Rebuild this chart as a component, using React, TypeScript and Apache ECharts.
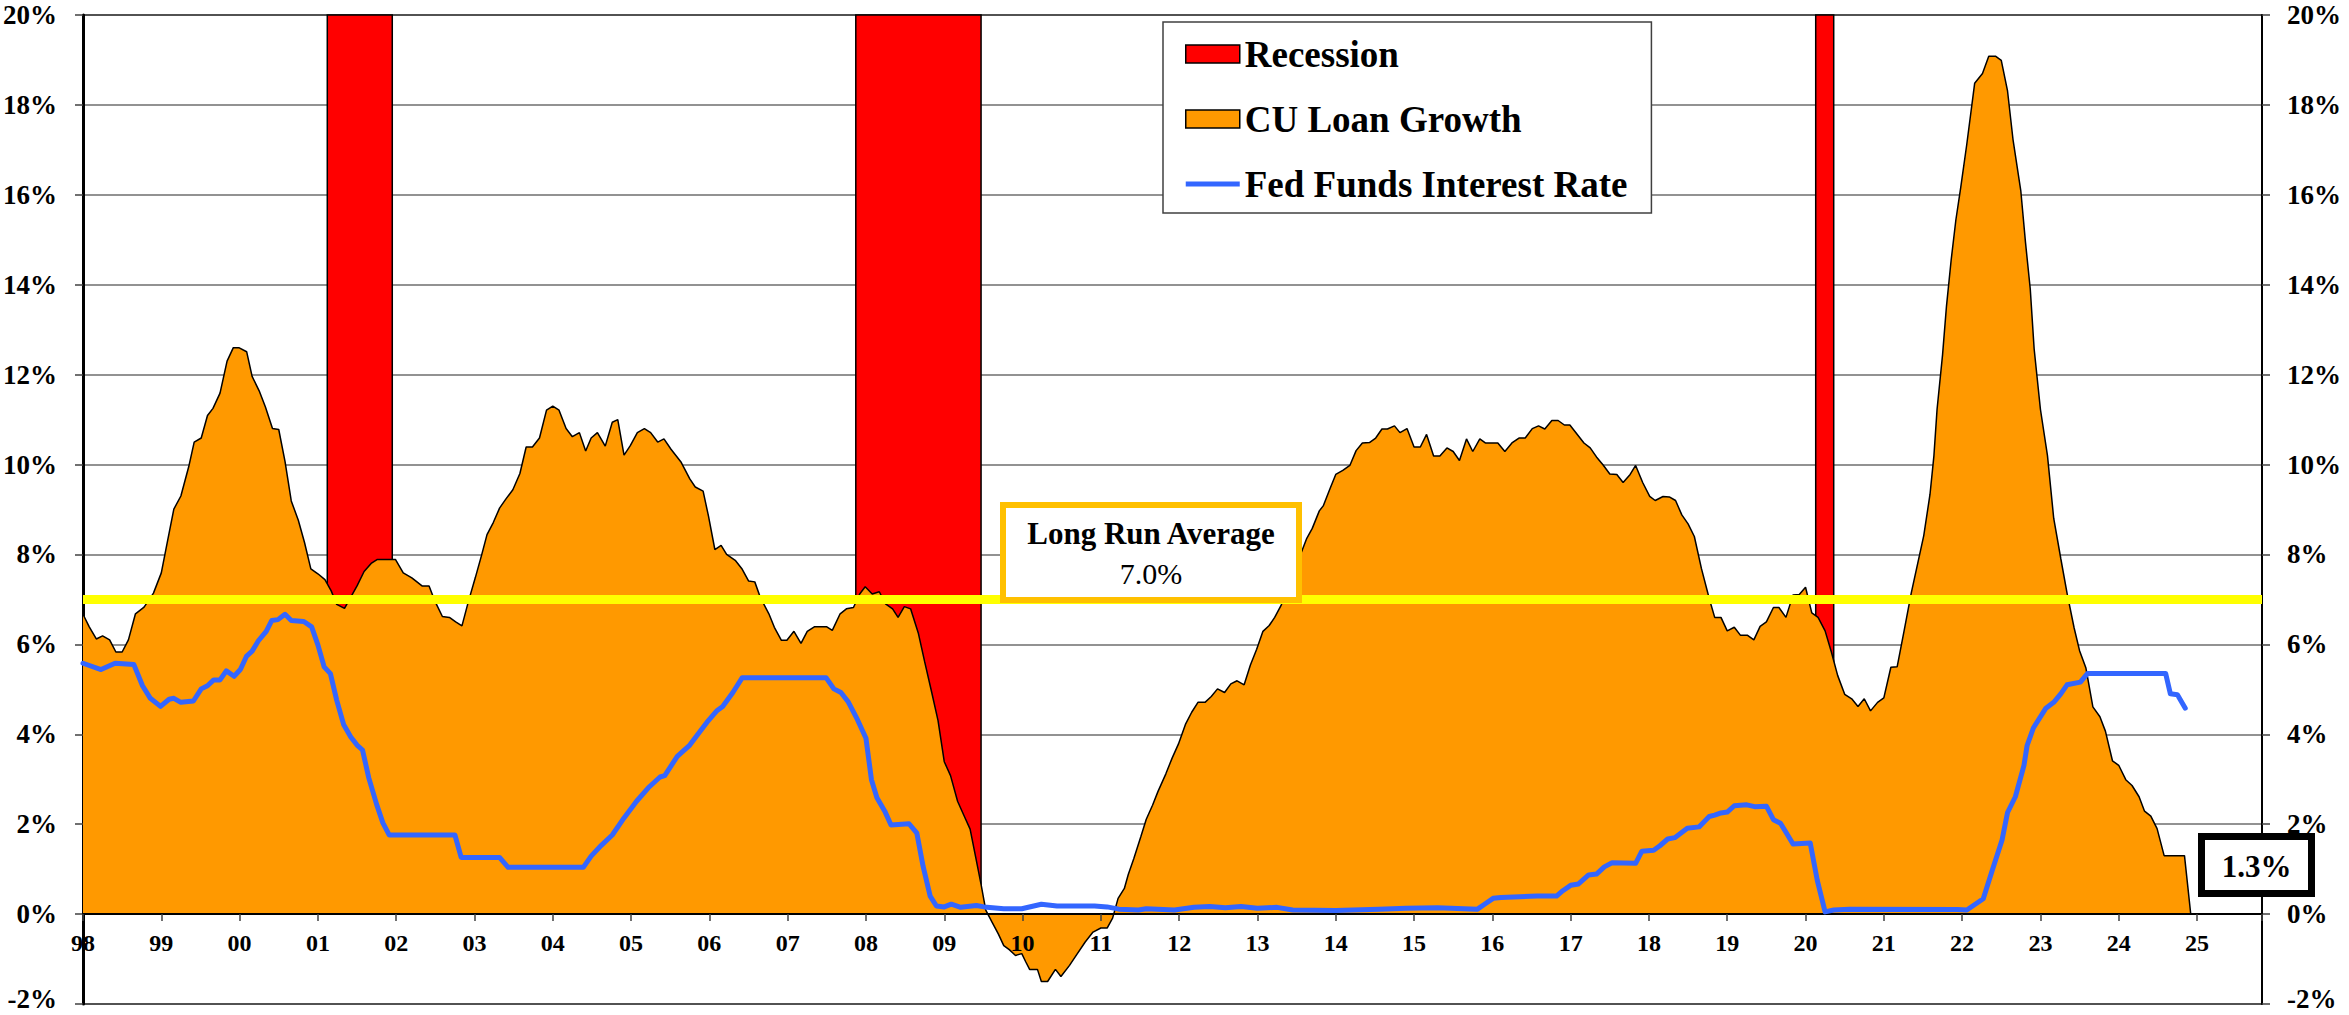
import React, { useEffect, useRef } from 'react';
import * as echarts from 'echarts';

const FONT = '"Liberation Serif", "Times New Roman", Times, serif';

// Axis ranges
const yMin = -2;
const yMax = 20;
const yStep = 2;
const xStart = 1998;
const xEnd = 2025.83;

// Recession periods (year fractions)
const recessionStart = [2001.12, 2007.87, 2020.13];
const recessionEnd = [2001.95, 2009.47, 2020.36];

const longRunAverage = 7.0;

// CU loan growth (annual %, by year fraction)
const loanGrowth: [number, number][] = [
  [1998.0, 6.67], [1998.08, 6.39], [1998.17, 6.12], [1998.25, 6.19], [1998.34, 6.1], [1998.42, 5.83],
  [1998.5, 5.83], [1998.58, 6.1], [1998.67, 6.68], [1998.78, 6.83], [1998.9, 7.14], [1999.0, 7.59],
  [1999.08, 8.3], [1999.16, 9.01], [1999.25, 9.3], [1999.35, 9.95], [1999.42, 10.5], [1999.51, 10.59],
  [1999.59, 11.09], [1999.66, 11.25], [1999.75, 11.59], [1999.84, 12.3], [1999.92, 12.6], [1999.99, 12.6],
  [2000.09, 12.51], [2000.16, 11.96], [2000.25, 11.64], [2000.33, 11.28], [2000.42, 10.8], [2000.5, 10.78],
  [2000.58, 10.07], [2000.66, 9.19], [2000.75, 8.76], [2000.83, 8.26], [2000.91, 7.68], [2001.0, 7.57],
  [2001.09, 7.44], [2001.17, 7.19], [2001.24, 6.89], [2001.34, 6.8], [2001.42, 7.05], [2001.5, 7.3],
  [2001.59, 7.62], [2001.68, 7.8], [2001.76, 7.89], [2001.89, 7.89], [2001.99, 7.89], [2002.09, 7.59],
  [2002.2, 7.48], [2002.33, 7.3], [2002.42, 7.3], [2002.49, 6.98], [2002.59, 6.62], [2002.68, 6.6],
  [2002.76, 6.5], [2002.84, 6.41], [2002.92, 6.94], [2003.01, 7.48], [2003.09, 7.98], [2003.16, 8.44],
  [2003.24, 8.71], [2003.32, 9.03], [2003.4, 9.23], [2003.49, 9.44], [2003.58, 9.8], [2003.66, 10.39],
  [2003.74, 10.39], [2003.83, 10.59], [2003.92, 11.21], [2004.0, 11.3], [2004.08, 11.21], [2004.17, 10.8],
  [2004.25, 10.62], [2004.34, 10.71], [2004.42, 10.3], [2004.49, 10.59], [2004.57, 10.71], [2004.67, 10.41],
  [2004.76, 10.94], [2004.83, 11.0], [2004.91, 10.21], [2004.99, 10.42], [2005.08, 10.71], [2005.17, 10.8],
  [2005.25, 10.71], [2005.34, 10.5], [2005.42, 10.57], [2005.51, 10.34], [2005.64, 10.05], [2005.75, 9.68],
  [2005.82, 9.5], [2005.92, 9.41], [2005.99, 8.84], [2006.07, 8.11], [2006.15, 8.2], [2006.22, 8.0],
  [2006.33, 7.87], [2006.42, 7.67], [2006.5, 7.41], [2006.58, 7.39], [2006.65, 7.05], [2006.76, 6.68],
  [2006.83, 6.38], [2006.92, 6.09], [2006.99, 6.09], [2007.08, 6.29], [2007.17, 6.02], [2007.25, 6.29],
  [2007.34, 6.39], [2007.5, 6.39], [2007.57, 6.31], [2007.67, 6.68], [2007.75, 6.79], [2007.84, 6.82],
  [2007.92, 7.12], [2007.99, 7.28], [2008.08, 7.12], [2008.17, 7.17], [2008.25, 6.9], [2008.34, 6.79],
  [2008.41, 6.6], [2008.49, 6.84], [2008.57, 6.79], [2008.67, 6.24], [2008.75, 5.61], [2008.84, 4.93],
  [2008.92, 4.31], [2009.0, 3.39], [2009.08, 3.08], [2009.17, 2.51], [2009.25, 2.2], [2009.33, 1.89],
  [2009.4, 1.28], [2009.47, 0.66], [2009.53, 0.09], [2009.61, -0.18], [2009.69, -0.44], [2009.76, -0.7],
  [2009.83, -0.79], [2009.91, -0.92], [2009.99, -0.88], [2010.04, -1.06], [2010.09, -1.23], [2010.19, -1.23],
  [2010.24, -1.5], [2010.32, -1.5], [2010.42, -1.23], [2010.49, -1.39], [2010.6, -1.14], [2010.7, -0.88],
  [2010.8, -0.62], [2010.9, -0.4], [2011.0, -0.31], [2011.08, -0.31], [2011.15, -0.09], [2011.22, 0.35],
  [2011.3, 0.57], [2011.35, 0.88], [2011.42, 1.23], [2011.51, 1.72], [2011.58, 2.11], [2011.66, 2.42],
  [2011.73, 2.73], [2011.83, 3.12], [2011.91, 3.47], [2011.99, 3.78], [2012.08, 4.22], [2012.16, 4.49],
  [2012.24, 4.71], [2012.33, 4.71], [2012.41, 4.84], [2012.49, 5.01], [2012.58, 4.93], [2012.66, 5.12],
  [2012.74, 5.19], [2012.83, 5.1], [2012.91, 5.54], [2012.99, 5.89], [2013.07, 6.29], [2013.15, 6.42],
  [2013.22, 6.6], [2013.3, 6.86], [2013.4, 7.3], [2013.48, 7.7], [2013.55, 8.0], [2013.63, 8.36],
  [2013.7, 8.58], [2013.79, 8.97], [2013.84, 9.08], [2013.93, 9.48], [2014.0, 9.78], [2014.09, 9.87],
  [2014.18, 9.98], [2014.26, 10.31], [2014.34, 10.48], [2014.43, 10.49], [2014.51, 10.59], [2014.59, 10.79],
  [2014.66, 10.79], [2014.75, 10.86], [2014.82, 10.71], [2014.91, 10.8], [2015.0, 10.39], [2015.08, 10.39],
  [2015.16, 10.67], [2015.25, 10.19], [2015.33, 10.19], [2015.42, 10.37], [2015.5, 10.29], [2015.58, 10.09],
  [2015.67, 10.57], [2015.75, 10.29], [2015.84, 10.57], [2015.91, 10.48], [2016.07, 10.48], [2016.16, 10.29],
  [2016.25, 10.48], [2016.34, 10.59], [2016.42, 10.59], [2016.51, 10.8], [2016.59, 10.86], [2016.67, 10.79],
  [2016.76, 10.98], [2016.84, 10.98], [2016.92, 10.88], [2016.99, 10.88], [2017.08, 10.68], [2017.17, 10.48],
  [2017.25, 10.37], [2017.33, 10.17], [2017.42, 9.98], [2017.5, 9.79], [2017.59, 9.78], [2017.67, 9.6],
  [2017.76, 9.78], [2017.83, 9.98], [2017.92, 9.6], [2018.01, 9.29], [2018.08, 9.2], [2018.18, 9.29],
  [2018.26, 9.28], [2018.34, 9.2], [2018.42, 8.88], [2018.5, 8.68], [2018.58, 8.4], [2018.67, 7.69],
  [2018.77, 7.02], [2018.84, 6.6], [2018.92, 6.6], [2019.0, 6.3], [2019.09, 6.38], [2019.17, 6.2],
  [2019.26, 6.2], [2019.34, 6.1], [2019.42, 6.4], [2019.5, 6.5], [2019.59, 6.82], [2019.66, 6.82],
  [2019.75, 6.6], [2019.84, 7.1], [2019.92, 7.11], [2020.0, 7.27], [2020.08, 6.7], [2020.16, 6.6],
  [2020.25, 6.3], [2020.33, 5.83], [2020.41, 5.31], [2020.5, 4.89], [2020.59, 4.79], [2020.67, 4.62],
  [2020.75, 4.79], [2020.83, 4.52], [2020.92, 4.71], [2021.0, 4.81], [2021.09, 5.49], [2021.17, 5.5],
  [2021.26, 6.31], [2021.35, 7.14], [2021.43, 7.78], [2021.51, 8.42], [2021.59, 9.34], [2021.64, 10.2],
  [2021.68, 11.23], [2021.75, 12.44], [2021.8, 13.52], [2021.86, 14.55], [2021.92, 15.44], [2021.98, 16.14],
  [2022.06, 17.13], [2022.16, 18.48], [2022.26, 18.7], [2022.34, 19.08], [2022.43, 19.08], [2022.5, 18.99],
  [2022.58, 18.31], [2022.65, 17.23], [2022.75, 16.08], [2022.81, 14.93], [2022.87, 13.91], [2022.92, 12.57],
  [2023.0, 11.23], [2023.09, 10.2], [2023.17, 8.8], [2023.26, 7.91], [2023.34, 7.14], [2023.43, 6.37],
  [2023.5, 5.86], [2023.58, 5.48], [2023.67, 4.61], [2023.76, 4.39], [2023.83, 4.07], [2023.92, 3.41],
  [2024.0, 3.31], [2024.09, 2.99], [2024.17, 2.86], [2024.26, 2.61], [2024.33, 2.29], [2024.41, 2.18],
  [2024.49, 1.9], [2024.58, 1.3], [2024.84, 1.3], [2024.92, 0],
];

// Fed funds interest rate (%, by year fraction)
const fedFunds: [number, number][] = [
  [1998.0, 5.58], [1998.23, 5.44], [1998.41, 5.58], [1998.65, 5.55], [1998.76, 5.08], [1998.86, 4.8],
  [1998.99, 4.62], [1999.1, 4.78], [1999.16, 4.8], [1999.25, 4.71], [1999.41, 4.74], [1999.51, 5.01],
  [1999.59, 5.08], [1999.67, 5.21], [1999.75, 5.21], [1999.83, 5.41], [1999.93, 5.29], [2000.01, 5.44],
  [2000.09, 5.74], [2000.16, 5.85], [2000.24, 6.08], [2000.34, 6.29], [2000.41, 6.53], [2000.49, 6.55],
  [2000.58, 6.67], [2000.66, 6.53], [2000.82, 6.51], [2000.92, 6.39], [2001.0, 5.99], [2001.08, 5.5],
  [2001.16, 5.35], [2001.24, 4.76], [2001.33, 4.21], [2001.42, 3.94], [2001.5, 3.76], [2001.57, 3.65],
  [2001.65, 3.03], [2001.75, 2.44], [2001.83, 2.03], [2001.91, 1.76], [2002.75, 1.76], [2002.83, 1.26],
  [2003.32, 1.26], [2003.43, 1.04], [2004.39, 1.04], [2004.49, 1.29], [2004.62, 1.53], [2004.76, 1.76],
  [2004.91, 2.14], [2005.07, 2.51], [2005.22, 2.81], [2005.37, 3.05], [2005.43, 3.08], [2005.59, 3.51],
  [2005.75, 3.76], [2005.88, 4.06], [2005.97, 4.27], [2006.1, 4.53], [2006.17, 4.62], [2006.3, 4.93],
  [2006.42, 5.26], [2007.49, 5.26], [2007.59, 5.01], [2007.68, 4.93], [2007.77, 4.73], [2007.89, 4.33],
  [2008.0, 3.91], [2008.07, 2.99], [2008.14, 2.59], [2008.24, 2.29], [2008.32, 1.98], [2008.55, 2.01],
  [2008.65, 1.8], [2008.73, 1.06], [2008.82, 0.4], [2008.9, 0.18], [2009.0, 0.16], [2009.09, 0.22],
  [2009.21, 0.15], [2009.41, 0.19], [2009.51, 0.16], [2009.76, 0.12], [2009.99, 0.12], [2010.24, 0.22],
  [2010.44, 0.18], [2010.92, 0.18], [2011.08, 0.16], [2011.23, 0.11], [2011.48, 0.09], [2011.58, 0.12],
  [2011.94, 0.09], [2012.19, 0.15], [2012.39, 0.17], [2012.59, 0.14], [2012.79, 0.17], [2013.0, 0.13],
  [2013.25, 0.15], [2013.45, 0.09], [2014.0, 0.08], [2014.55, 0.11], [2014.9, 0.13], [2015.3, 0.14],
  [2015.81, 0.11], [2015.91, 0.23], [2016.01, 0.35], [2016.11, 0.37], [2016.57, 0.4], [2016.82, 0.4],
  [2016.9, 0.52], [2017.0, 0.64], [2017.1, 0.67], [2017.23, 0.87], [2017.33, 0.89], [2017.43, 1.05],
  [2017.53, 1.14], [2017.83, 1.13], [2017.91, 1.4], [2018.06, 1.42], [2018.14, 1.52], [2018.24, 1.67],
  [2018.33, 1.7], [2018.49, 1.91], [2018.64, 1.94], [2018.77, 2.17], [2018.84, 2.2], [2018.92, 2.25],
  [2019.0, 2.27], [2019.09, 2.41], [2019.25, 2.43], [2019.35, 2.39], [2019.5, 2.4], [2019.59, 2.1],
  [2019.68, 2.02], [2019.75, 1.82], [2019.84, 1.56], [2020.06, 1.58], [2020.15, 0.75], [2020.25, 0.05],
  [2020.36, 0.09], [2020.56, 0.11], [2021.94, 0.1], [2022.06, 0.09], [2022.27, 0.34], [2022.38, 0.95],
  [2022.51, 1.65], [2022.58, 2.26], [2022.68, 2.61], [2022.79, 3.31], [2022.83, 3.75], [2022.91, 4.14],
  [2023.07, 4.58], [2023.17, 4.71], [2023.26, 4.9], [2023.34, 5.1], [2023.51, 5.16], [2023.6, 5.35],
  [2024.6, 5.35], [2024.66, 4.9], [2024.75, 4.88], [2024.85, 4.58],
];

const seriesNames = ['Recession', 'CU Loan Growth', 'Fed Funds Interest Rate'];

const latestLoanGrowth = (() => {
  for (let i = loanGrowth.length - 1; i >= 0; i--) {
    if (loanGrowth[i][1] !== 0) return loanGrowth[i][1];
  }
  return 0;
})();

const yearLabel = (v: number) => {
  const r = Math.round(v);
  if (Math.abs(v - r) > 1e-6) return '';
  return String(r % 100).padStart(2, '0');
};

// Percent labels; the lowest one is nudged up slightly so it stays inside the canvas
const percentLabel = (v: number) => (v === yMin ? `{low|${v}%}` : `${v}%`);

// Layout (pixels)
const CHART_W = 2349;
const CHART_H = 1015;
const GRID = { left: 83, right: 87, top: 15, bottom: 11 };
const gridHeight = CHART_H - GRID.top - GRID.bottom;
// Move the x axis from the bottom edge up to the 0% line
const xAxisOffset = -((0 - yMin) / (yMax - yMin)) * gridHeight;

export default function App() {
  const ref = useRef<HTMLDivElement>(null);

  useEffect(() => {
    if (!ref.current) return;
    const chart = echarts.init(ref.current, undefined, { renderer: 'svg' });

    const labelFont = { fontSize: 27, fontWeight: 'bold', color: '#000', fontFamily: FONT };

    const yAxisBase = {
      type: 'value',
      min: yMin,
      max: yMax,
      interval: yStep,
      axisTick: { show: true, length: 8, lineStyle: { color: '#404040', width: 1.5 } },
      axisLabel: {
        ...labelFont,
        lineHeight: 20,
        formatter: percentLabel,
        rich: {
          low: { ...labelFont, lineHeight: 20, padding: [0, 0, 10, 0] },
        },
      },
    };

    const option: any = {
      animation: false,
      backgroundColor: '#ffffff',
      textStyle: { fontFamily: FONT },
      grid: {
        ...GRID,
        containLabel: false,
        outerBoundsMode: 'none',
        show: true,
        borderColor: '#000',
        borderWidth: 2,
        backgroundColor: 'transparent',
      },
      legend: {
        left: 1163,
        top: 22,
        orient: 'vertical',
        itemWidth: 54,
        itemHeight: 18,
        itemGap: 25,
        padding: [12, 24, 9, 22],
        backgroundColor: '#ffffff',
        borderColor: '#404040',
        borderWidth: 1.5,
        selectedMode: false,
        textStyle: { fontFamily: FONT, fontSize: 37, fontWeight: 'bold', color: '#000', lineHeight: 40 },
        data: [
          { name: seriesNames[0], icon: 'rect', itemStyle: { color: '#FF0000', borderColor: '#000', borderWidth: 1.5 } },
          { name: seriesNames[1], icon: 'rect', itemStyle: { color: '#FF9900', borderColor: '#000', borderWidth: 1.5 } },
          {
            name: seriesNames[2],
            icon: 'path://M0,0 L0.01,0 M0,6.5 L54,6.5 L54,11.5 L0,11.5 Z M53.99,18 L54,18',
            itemStyle: { color: '#3366FF', borderWidth: 0 },
          },
        ],
      },
      xAxis: {
        type: 'value',
        position: 'bottom',
        offset: xAxisOffset,
        min: xStart,
        max: xEnd,
        interval: 1,
        z: 5,
        axisLine: { show: true, onZero: false, lineStyle: { color: '#000', width: 2 } },
        axisTick: { show: true, length: 7, lineStyle: { color: '#404040', width: 1.5 } },
        axisLabel: {
          margin: 17,
          fontSize: 24,
          fontWeight: 'bold',
          color: '#000',
          fontFamily: FONT,
          formatter: yearLabel,
        },
        splitLine: { show: false },
      },
      yAxis: [
        {
          ...yAxisBase,
          position: 'left',
          axisLine: { show: true, onZero: false, lineStyle: { color: '#000', width: 3 } },
          axisLabel: { ...yAxisBase.axisLabel, margin: 26 },
          splitLine: { show: true, lineStyle: { color: '#6e6e6e', width: 1.5 } },
        },
        {
          ...yAxisBase,
          position: 'right',
          axisLine: { show: true, onZero: false, lineStyle: { color: '#000', width: 2 } },
          axisLabel: { ...yAxisBase.axisLabel, margin: 25 },
          splitLine: { show: false },
        },
      ],
      series: [
        {
          name: seriesNames[0],
          type: 'line',
          data: [],
          symbol: 'none',
          itemStyle: { color: '#FF0000' },
        },
        {
          name: seriesNames[1],
          type: 'line',
          data: loanGrowth,
          symbol: 'none',
          showSymbol: false,
          z: 2,
          lineStyle: { color: '#000', width: 1.5 },
          itemStyle: { color: '#FF9900' },
          areaStyle: { color: '#FF9900', opacity: 1, origin: 0 },
          markArea: {
            silent: true,
            z: 1,
            label: { show: false },
            itemStyle: { color: '#FF0000', borderColor: '#000', borderWidth: 1.5 },
            data: recessionStart.map((s, i) => [
              { xAxis: s, yAxis: 0 },
              { xAxis: recessionEnd[i], yAxis: yMax },
            ]),
          },
          markLine: {
            silent: true,
            z: 4,
            symbol: ['none', 'none'],
            label: { show: false },
            lineStyle: { color: '#FFFF00', width: 9, type: 'solid' },
            data: [{ yAxis: longRunAverage }],
          },
        },
        {
          name: seriesNames[2],
          type: 'line',
          data: fedFunds,
          symbol: 'none',
          showSymbol: false,
          z: 6,
          lineStyle: { color: '#3366FF', width: 5, cap: 'round', join: 'round' },
          itemStyle: { color: '#3366FF' },
        },
      ],
      graphic: [
        {
          type: 'rect',
          z: 100,
          shape: { x: 1003, y: 505, width: 296, height: 95 },
          style: { fill: '#ffffff', stroke: '#FFC000', lineWidth: 6 },
        },
        {
          type: 'text',
          z: 101,
          x: 1151,
          y: 533.5,
          style: {
            text: 'Long Run Average',
            fontFamily: FONT,
            fontSize: 31,
            fontWeight: 'bold',
            fill: '#000',
            align: 'center',
            verticalAlign: 'middle',
          },
        },
        {
          type: 'text',
          z: 101,
          x: 1151,
          y: 573,
          style: {
            text: `${longRunAverage.toFixed(1)}%`,
            fontFamily: FONT,
            fontSize: 30,
            fontWeight: 'normal',
            fill: '#000',
            align: 'center',
            verticalAlign: 'middle',
          },
        },
        {
          type: 'rect',
          z: 100,
          shape: { x: 2201.5, y: 836.5, width: 110, height: 57 },
          style: { fill: '#ffffff', stroke: '#000', lineWidth: 7 },
        },
        {
          type: 'text',
          z: 101,
          x: 2256.5,
          y: 866,
          style: {
            text: `${latestLoanGrowth.toFixed(1)}%`,
            fontFamily: FONT,
            fontSize: 31,
            fontWeight: 'bold',
            fill: '#000',
            align: 'center',
            verticalAlign: 'middle',
          },
        },
      ],
    };

    chart.setOption(option);
    return () => {
      chart.dispose();
    };
  }, []);

  return (
    <div
      ref={ref}
      style={{ position: 'absolute', left: 0, top: 0, width: CHART_W, height: CHART_H }}
    />
  );
}
